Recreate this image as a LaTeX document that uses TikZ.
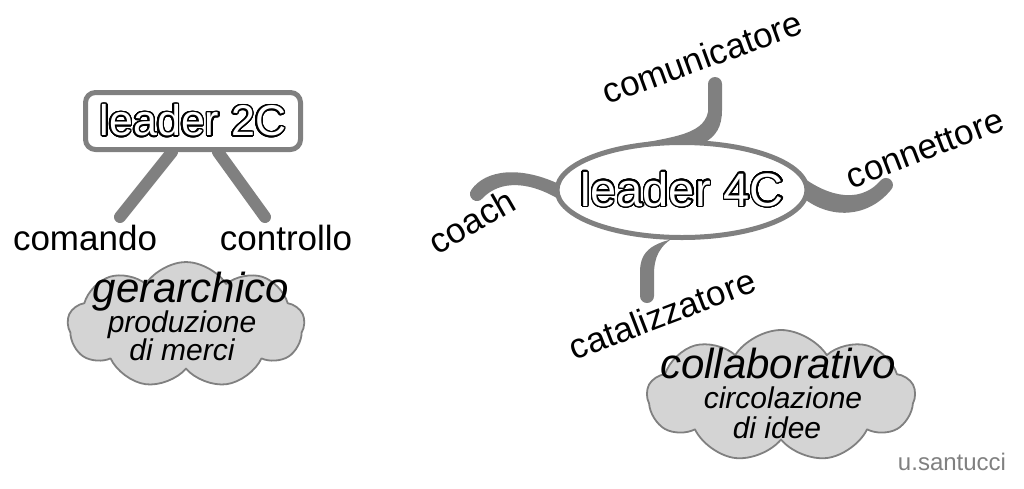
\documentclass[tikz,border=0pt]{standalone}
\usepackage{fontspec}
\setmainfont{Liberation Sans}
\usepackage{contour}
\usetikzlibrary{shapes.geometric,shapes.symbols,backgrounds}
\definecolor{mapgray}{RGB}{128,128,128}
\definecolor{cloudgray}{RGB}{212,212,212}
\contourlength{1.4pt}
\contournumber{32}
% testo bianco con contorno nero
\newcommand{\outlined}[1]{{\color{white}\contour{black}{#1}}}

\begin{document}
\begin{tikzpicture}[x=1pt,y=1pt,line join=round,
    hubbox/.style={draw=mapgray,line width=5,rounded corners=10,fill=white,
      minimum width=215,minimum height=57,inner sep=0},
    huboval/.style={ellipse,draw=mapgray,line width=5,fill=white,
      minimum width=250,minimum height=95,inner sep=0},
    hubtext/.style={font=\fontsize{43}{43}\selectfont},
    twig/.style={mapgray,line width=12,line cap=round},
    word/.style={font=\fontsize{35}{35}\selectfont,inner sep=0},
    puff/.style={cloud,cloud puffs=9,cloud puff arc=115,cloud ignores aspect,
      draw=mapgray,line width=1.8,fill=cloudgray,inner sep=0},
    bigword/.style={font=\fontsize{42}{42}\selectfont\itshape,inner sep=0,anchor=base},
    smallword/.style={font=\fontsize{30}{30}\selectfont\itshape,inner sep=0,anchor=base}]
  \useasboundingbox (0,0) rectangle (1024,-488);

  % modello 2C
  \node[hubbox,hubtext] (l2c) at (193,-121) {\outlined{leader 2C}};
  \coordinate (cmdend) at (120,-217);
  \coordinate (ctlend) at (265,-217);
  \begin{scope}[on background layer]
    \draw[twig] ([xshift=-21]l2c.south) -- (cmdend);
    \draw[twig] ([xshift=25]l2c.south) -- (ctlend);
  \end{scope}
  \node[word,anchor=base] (cmd) at (85,-250) {comando};
  \node[word,anchor=base] (ctl) at (286,-250) {controllo};

  \node[puff,minimum width=237,minimum height=126] (c2c) at (186,-325) {};
  \node[bigword] (ger) at (191,-302) {gerarchico};
  \node[smallword] (pro) at (182,-332) {produzione};
  \node[smallword] (mer) at (182,-360) {di merci};

  % modello 4C
  \fill[mapgray] (708,-84) arc[start angle=180,end angle=0,radius=7] -- (722,-110)
    .. controls (722,-127) and (716,-136) .. (704,-143) -- (625,-147)
    .. controls (665,-137) and (703,-137) .. (708,-112) -- cycle;
  \fill[mapgray] (796,-172) .. controls (822,-194) and (858,-207) .. (881,-180)
    arc[start angle=135,end angle=-45,radius=7]
    .. controls (868,-218) and (830,-220) .. (802,-197) -- cycle;
  \fill[mapgray] (561,-185) .. controls (520,-165) and (485,-170) .. (471.4,-189.8)
    arc[start angle=143,end angle=323,radius=7]
    .. controls (500,-180) and (530,-180) .. (565,-203) -- cycle;
  \fill[mapgray] (690,-236) .. controls (653,-241) and (640,-250) .. (640,-272)
    -- (640,-296) arc[start angle=180,end angle=360,radius=7] -- (654,-275)
    .. controls (654,-257) and (659,-246) .. (676,-236) -- cycle;
  \node[huboval] (l4c) at (682,-190) {};
  \node[font=\fontsize{47}{47}\selectfont,inner sep=0] (l4ctext) at (l4c) {\outlined{leader 4C}};

  \node[word,rotate=20] (com) at (702,-57) {comunicatore};
  \node[word,rotate=21] (con) at (925,-149) {connettore};
  \node[word,rotate=30] (coa) at (472,-221) {coach};
  \node[word,rotate=21] (cat) at (662,-314) {catalizzatore};

  \node[puff,minimum width=268,minimum height=132] (c4c) at (781,-396) {};
  \node[bigword] (col) at (778,-378) {collaborativo};
  \node[smallword] (cir) at (783,-408) {circolazione};
  \node[smallword] (ide) at (777,-438) {di idee};

  \node[font=\fontsize{24}{24}\selectfont,text=mapgray] (sig) at (952,-462) {u.santucci};
\end{tikzpicture}
\end{document}
